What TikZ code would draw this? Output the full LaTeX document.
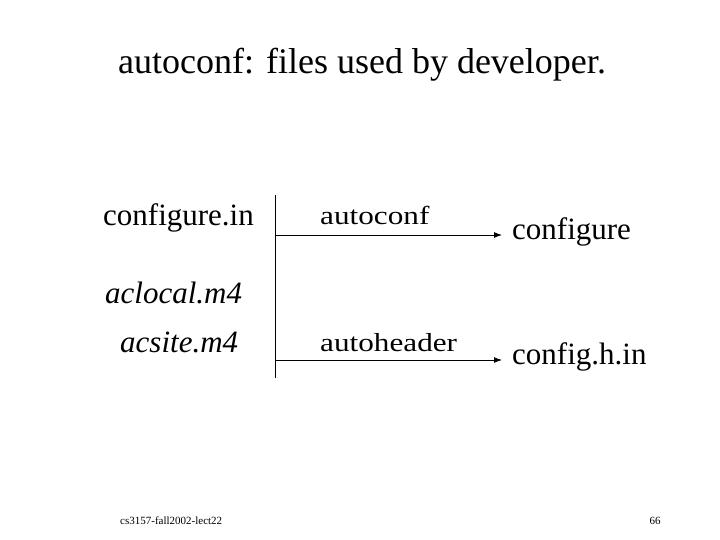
\documentclass[tikz,border=0pt]{standalone}
\usepackage{fontspec}
\usetikzlibrary{arrows.meta}
\setmainfont{Liberation Serif}
\begin{document}
\begin{tikzpicture}[x=1pt,y=-1pt,
  big/.style={inner sep=0pt,font=\fontsize{31}{36}\selectfont},
  mid/.style={inner sep=0pt,font=\fontsize{26}{30}\selectfont,xscale=1.2},
  small/.style={inner sep=0pt,font=\fontsize{11}{13}\selectfont},
  arr/.style={draw,line width=1pt,-{Latex[length=8pt,width=6pt]}}]
\useasboundingbox (0,0) rectangle (720,540);
\node[inner sep=0pt,font=\fontsize{36}{42}\selectfont] (title) at (362,65) {autoconf: files used by developer.};
\node[big,anchor=west] (cin) at (103,218) {configure.in};
\node[big,anchor=west] (acl) at (105,293) {\itshape aclocal.m4};
\node[big,anchor=west] (acs) at (120,342) {\itshape acsite.m4};
\coordinate (vt) at (275,195);
\coordinate (vb) at (275,378);
\draw[line width=0.8pt] (vt) -- (vb);
\node[mid,anchor=west] (ac) at (320,215) {autoconf};
\node[mid,anchor=west] (ah) at (320,343) {autoheader};
\node[big,anchor=west] (cfg) at (512,232) {configure};
\node[big,anchor=west] (chin) at (512,357) {config.h.in};
\coordinate (a1) at (275,235);
\coordinate (a2) at (275,360);
\draw[arr] (a1) -- ([xshift=-10pt]cfg.west |- a1);
\draw[arr] (a2) -- ([xshift=-10pt]chin.west |- a2);
\node[small,anchor=west] (foot) at (120,521) {cs3157-fall2002-lect22};
\node[small] (pg) at (655,521) {66};
\end{tikzpicture}
\end{document}
